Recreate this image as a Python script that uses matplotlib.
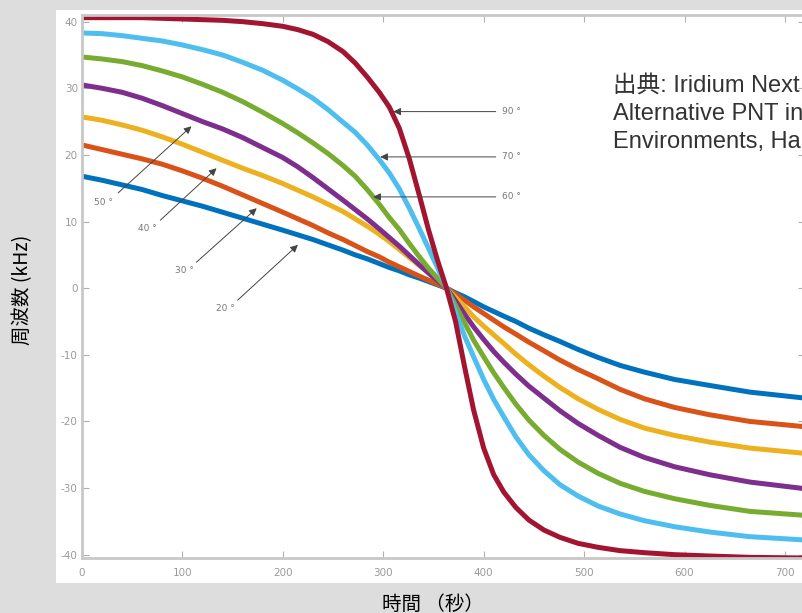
import matplotlib.pyplot as plt
from matplotlib.patches import Rectangle

plt.rcParams['axes.unicode_minus'] = False

# time axis (s), shared by all curves
t = [0, 20, 40, 60, 80, 100, 120, 140, 160, 180, 200, 215, 230, 245, 260, 272, 284,
     296, 306, 316, 326, 336, 345, 354, 363, 372, 381, 390, 400, 410, 420, 432, 445,
     460, 476, 494, 514, 536, 560, 590, 625, 665, 720]

# doppler frequency (kHz), one list per elevation angle
f20 = [16.8, 16.2, 15.5, 14.8, 13.9, 13.1, 12.3, 11.4, 10.5, 9.6, 8.7, 8.0, 7.3, 6.5,
       5.7, 5.0, 4.4, 3.7, 3.1, 2.6, 2.0, 1.5, 1.0, 0.5, 0.0,
       -0.7, -1.3, -2.0, -2.8, -3.5, -4.2, -5.0, -6.0, -7.0, -8.0, -9.2, -10.4, -11.6,
       -12.6, -13.7, -14.6, -15.6, -16.5]
f30 = [21.5, 20.8, 20.1, 19.4, 18.6, 17.6, 16.5, 15.3, 14.0, 12.7, 11.4, 10.4, 9.4, 8.3,
       7.3, 6.4, 5.5, 4.7, 3.9, 3.2, 2.5, 1.8, 1.2, 0.6, 0.0,
       -0.9, -1.8, -2.8, -3.8, -4.8, -5.8, -6.9, -8.1, -9.4, -10.8, -12.2, -13.6, -15.2,
       -16.6, -17.9, -19.0, -20.0, -20.8]
f40 = [25.7, 25.2, 24.5, 23.7, 22.7, 21.6, 20.4, 19.2, 18.0, 16.9, 15.7, 14.7, 13.7, 12.6,
       11.5, 10.4, 9.3, 8.1, 7.0, 5.8, 4.6, 3.4, 2.3, 1.1, 0.0,
       -1.4, -2.8, -4.3, -5.7, -7.0, -8.3, -9.9, -11.5, -13.2, -14.9, -16.6, -18.2, -19.7,
       -21.0, -22.1, -23.1, -24.0, -24.8]
f50 = [30.5, 30.0, 29.4, 28.5, 27.4, 26.2, 25.0, 23.9, 22.6, 21.1, 19.6, 18.2, 16.6, 14.9,
       13.2, 11.8, 10.4, 8.9, 7.6, 6.3, 4.9, 3.5, 2.3, 1.1, 0.0,
       -1.9, -3.9, -5.8, -7.7, -9.5, -11.1, -12.9, -14.7, -16.5, -18.4, -20.3, -22.1, -23.9,
       -25.4, -26.8, -28.0, -29.1, -30.1]
f60 = [34.7, 34.4, 34.0, 33.4, 32.6, 31.7, 30.6, 29.4, 28.0, 26.4, 24.7, 23.3, 21.8, 20.2,
       18.4, 16.8, 14.8, 12.6, 10.6, 8.8, 6.7, 4.7, 3.0, 1.5, 0.0,
       -2.6, -5.2, -7.8, -10.3, -12.7, -14.9, -17.4, -19.8, -22.1, -24.2, -26.1, -27.8,
       -29.3, -30.5, -31.6, -32.6, -33.5, -34.1]
f70 = [38.3, 38.2, 37.9, 37.5, 37.1, 36.5, 35.8, 35.0, 33.9, 32.7, 31.2, 29.9, 28.5, 26.8,
       24.9, 23.4, 21.5, 19.3, 17.3, 14.9, 12.0, 8.9, 6.0, 3.1, 0.0,
       -3.6, -7.2, -10.3, -13.7, -16.7, -19.3, -22.3, -25.0, -27.4, -29.5, -31.2, -32.7,
       -33.9, -34.9, -35.8, -36.6, -37.3, -37.8]
f90 = [40.6, 40.6, 40.6, 40.6, 40.5, 40.4, 40.3, 40.2, 40.0, 39.7, 39.3, 38.8, 38.1, 37.0,
       35.5, 33.8, 31.7, 29.4, 27.2, 24.0, 19.4, 13.9, 8.8, 4.2, 0.0,
       -5.0, -11.8, -18.3, -24.0, -28.0, -30.6, -32.9, -34.8, -36.3, -37.4, -38.3, -38.9,
       -39.4, -39.7, -40.0, -40.2, -40.4, -40.5]

series = [f20, f30, f40, f50, f60, f70, f90]
colors = ['#0072BD', '#D95319', '#EDB120', '#7E2F8E', '#77AC30', '#4DBEEE', '#A2142F']

# arrow annotations: label, tip (t, f), tail (t, f), label position
left_notes = [('50 °', (109, 24.3), (36, 14.3), (21, 12.8)),
              ('40 °', (134, 18.0), (78, 10.2), (65, 9.0)),
              ('30 °', (174, 12.0), (114, 3.9), (102, 2.7)),
              ('20 °', (215, 6.5), (155, -1.8), (143, -3.0))]
right_notes = [('90 °', (310, 26.5)), ('70 °', (297, 19.7)), ('60 °', (290, 13.7))]

fig = plt.figure(figsize=(8.03, 6.13), dpi=100, facecolor='#dddddd')
fig.patches.append(Rectangle((56 / 803, 30 / 613), 747 / 803, 573 / 613,
                             transform=fig.transFigure, facecolor='white',
                             edgecolor='none', zorder=-5))
ax = fig.add_axes([82 / 803, 55 / 613, 723 / 803, 543 / 613])
ax.set_zorder(2)

for f, c in zip(series, colors):
    ax.plot(t, f, color=c, lw=3.6, solid_joinstyle='round', solid_capstyle='butt')

arrow = dict(arrowstyle='-|>', color='#444444', lw=0.7, mutation_scale=11,
             shrinkA=0, shrinkB=0)
for lab, tip, tail, pos in left_notes:
    ax.annotate('', xy=tip, xytext=tail, arrowprops=arrow)
    ax.text(pos[0], pos[1], lab, fontsize=6.5, color='#777777', ha='center', va='center')
for lab, tip in right_notes:
    ax.annotate('', xy=tip, xytext=(412, tip[1]), arrowprops=arrow)
    ax.text(418, tip[1], lab, fontsize=6.5, color='#777777', ha='left', va='center')

ax.set_xlim(0, 720)
ax.set_ylim(-40.5, 41)
ax.set_xticks(range(0, 701, 100))
ax.set_yticks(range(-40, 41, 10))
ax.tick_params(direction='in', length=5, width=0.8, color='#b0b0b0',
               labelcolor='#9a9a9a', labelsize=7.5, top=True, right=True)
ax.tick_params(axis='x', pad=7)
ax.tick_params(axis='y', pad=3)
for s in ax.spines.values():
    s.set_color('#c8c8c8')
    s.set_linewidth(2)

cjk = ['Noto Sans CJK JP', 'DejaVu Sans']
fig.text(23 / 803, 1 - 290 / 613, '周波数 (kHz)', rotation=90, ha='center',
         va='center', fontsize=14, family=cjk)
fig.text(433 / 803, 1 - 604 / 613, '時間 （秒）', ha='center', va='center',
         fontsize=14, family=cjk)

src = ['出典: Iridium Next', 'Alternative PNT in', 'Environments, Ha']
for i, line in enumerate(src):
    fig.text(613 / 803, 1 - (92 + 28 * i) / 613, line, ha='left', va='baseline',
             fontsize=17, color='#333333', zorder=5,
             family=['Liberation Sans', 'Noto Sans CJK JP'])

fig.savefig('out.png', dpi=100, facecolor=fig.get_facecolor())
